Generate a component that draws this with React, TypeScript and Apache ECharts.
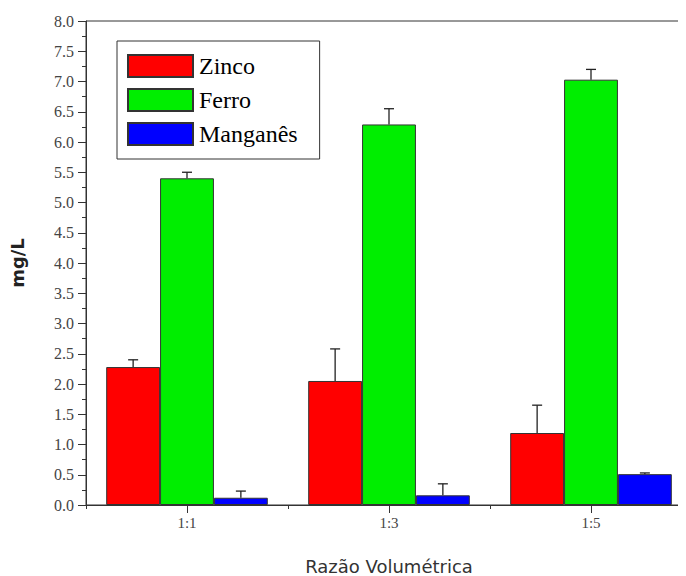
import React, { useEffect, useRef } from "react";
import * as echarts from "echarts";

const categories = ["1:1", "1:3", "1:5"];
const seriesNames = ["Zinco", "Ferro", "Manganês"];
const zinco = [2.28, 2.05, 1.19];
const ferro = [5.4, 6.29, 7.03];
const manganes = [0.12, 0.16, 0.51];
const zincoErr = [0.12, 0.53, 0.46];
const ferroErr = [0.1, 0.26, 0.17];
const manganesErr = [0.11, 0.19, 0.02];
const colors = ["#ff0000", "#00ee00", "#0000ff"];

export default function App() {
  const ref = useRef<HTMLDivElement>(null);
  useEffect(() => {
    if (!ref.current) return;
    const chart = echarts.init(ref.current, undefined, { renderer: "svg" });
    const values = [zinco, ferro, manganes];
    const errs = [zincoErr, ferroErr, manganesErr];
    const barSeries = values.map((v, i) => ({
      type: "bar",
      name: seriesNames[i],
      data: v,
      xAxisIndex: 0,
      barGap: "0%",
      barCategoryGap: "20%",
      itemStyle: { color: colors[i], borderColor: "#333", borderWidth: 1 },
    }));
    const errSeries = values.map((v, i) => ({
      type: "custom",
      xAxisIndex: 0,
      data: v.map((val, j) => [j, val, val + errs[i][j]]),
      z: 5,
      renderItem: (params: any, api: any) => {
        const x = api.value(0);
        const bandW = api.size([1, 0])[0];
        const barW = (bandW * 0.8) / 3;
        const base = api.coord([x, api.value(1)]);
        const top = api.coord([x, api.value(2)]);
        const cx = base[0] + (i - 1) * barW;
        const style = { stroke: "#222", lineWidth: 1.3 };
        return {
          type: "group",
          children: [
            { type: "line", shape: { x1: cx, y1: base[1], x2: cx, y2: top[1] }, style },
            { type: "line", shape: { x1: cx - 5, y1: top[1], x2: cx + 5, y2: top[1] }, style },
          ],
        };
      },
    }));
    chart.setOption({
      animation: false,
      backgroundColor: "#fff",
      grid: {
        left: 86,
        top: 21,
        width: 606,
        height: 484,
        outerBoundsMode: "none",
        containLabel: false,
        show: true,
        borderColor: "#333",
        borderWidth: 1,
        backgroundColor: "transparent",
      },
      legend: {
        data: seriesNames,
        orient: "vertical",
        left: 117,
        top: 41,
        itemWidth: 65,
        itemHeight: 22,
        itemGap: 10,
        padding: [13, 22, 13, 10],
        borderColor: "#333",
        borderWidth: 1,
        icon: "rect",
        textStyle: { fontFamily: "Liberation Serif", fontSize: 24, color: "#000", padding: [0, 0, 0, 1] },
      },
      xAxis: [
        {
          type: "category",
          data: categories,
          position: "bottom",
          axisLine: { show: true, lineStyle: { color: "#333" } },
          axisTick: { show: true, alignWithLabel: true, length: 8, lineStyle: { color: "#333" } },
          axisLabel: { fontFamily: "Liberation Serif", fontSize: 15, color: "#444", margin: 10 },
          name: "Razão Volumétrica",
          nameLocation: "middle",
          nameGap: 52,
          nameTextStyle: { fontFamily: "DejaVu Sans", fontSize: 18, color: "#333" },
        },
        {
          type: "category",
          data: categories,
          position: "bottom",
          axisLine: { show: false },
          axisTick: { show: true, alignWithLabel: false, length: 4, lineStyle: { color: "#333" } },
          axisLabel: { show: false },
        },
      ],
      yAxis: {
        type: "value",
        min: 0,
        max: 8,
        interval: 0.5,
        name: "mg/L",
        nameLocation: "middle",
        nameGap: 60,
        nameTextStyle: { fontFamily: "DejaVu Sans", fontSize: 18, fontWeight: "bold", color: "#222" },
        axisLine: { show: true, lineStyle: { color: "#333" } },
        axisTick: { show: true, length: 8, lineStyle: { color: "#333" } },
        minorTick: { show: true, splitNumber: 2, length: 4, lineStyle: { color: "#333" } },
        splitLine: { show: false },
        axisLabel: {
          fontFamily: "Liberation Serif",
          fontSize: 16,
          color: "#444",
          margin: 12,
          formatter: (v: number) => v.toFixed(1),
        },
      },
      series: [...barSeries, ...errSeries],
    });
    return () => chart.dispose();
  }, []);
  return <div ref={ref} style={{ width: 686, height: 576, marginLeft: -8, marginTop: -8 }} />;
}
